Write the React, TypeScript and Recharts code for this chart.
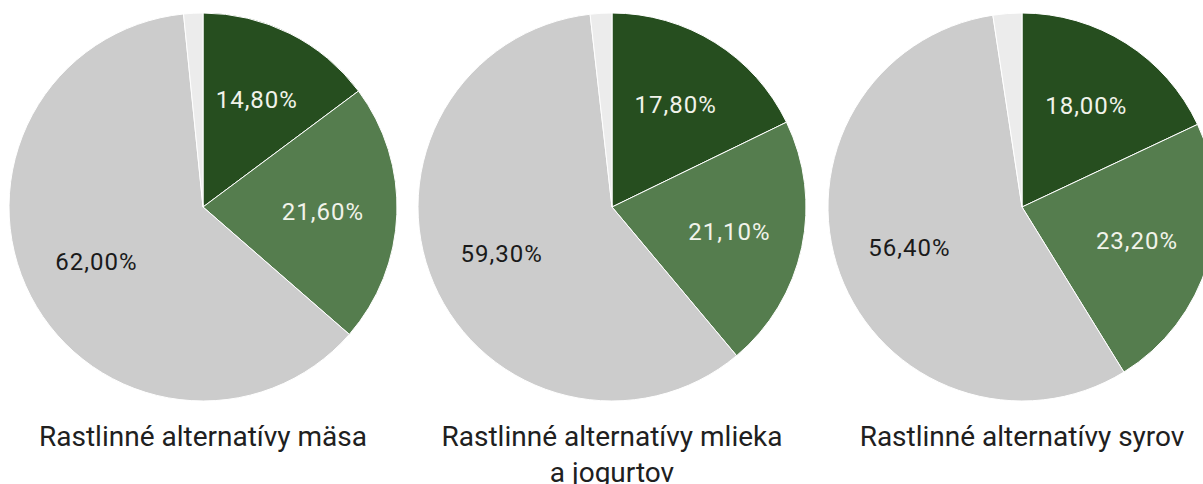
import React from "react";
import { PieChart, Pie, Cell } from "recharts";

const categories = ["Skupina 1", "Skupina 2", "Skupina 3", "Bez odpovede"];
const titles = [
  ["Rastlinné alternatívy mäsa"],
  ["Rastlinné alternatívy mlieka", "a jogurtov"],
  ["Rastlinné alternatívy syrov"],
];
const masaValues = [14.8, 21.6, 62.0, 1.6];
const mliekaValues = [17.8, 21.1, 59.3, 1.8];
const syrovValues = [18.0, 23.2, 56.4, 2.4];

const colors = ["#264e1f", "#557d4e", "#cccccc", "#ececec"];
const labelColors = ["#f1f3ea", "#f1f3ea", "#1a1a1a", "#1a1a1a"];

const W = 1203;
const H = 484;
const centersX = [203, 612, 1022];
const centerY = 207;
const RADIUS = 194;
const RAD = Math.PI / 180;

const toRows = (values: number[]) =>
  categories.map((name, i) => ({ name, value: values[i] }));

const series = [masaValues, mliekaValues, syrovValues].map(toRows);

const renderLabel = (props: any) => {
  const { cx, cy, midAngle, index, value } = props;
  if (index === 3) return null;
  const r = 120;
  const x = cx + r * Math.cos(-midAngle * RAD);
  const y = cy + r * Math.sin(-midAngle * RAD);
  return (
    <text
      x={x}
      y={y}
      fill={labelColors[index]}
      textAnchor="middle"
      dominantBaseline="central"
      fontFamily="Roboto, sans-serif"
      fontSize={24}
      letterSpacing={1}
    >
      {value.toFixed(2).replace(".", ",") + "%"}
    </text>
  );
};

export default function App() {
  return (
    <div
      style={{
        position: "absolute",
        left: 0,
        top: 0,
        width: W,
        height: H,
        overflow: "hidden",
        background: "#ffffff",
      }}
    >
      <PieChart width={W} height={H} margin={{ top: 0, right: 0, bottom: 0, left: 0 }}>
        {series.map((rows, s) => (
          <Pie
            key={s}
            data={rows}
            dataKey="value"
            nameKey="name"
            cx={centersX[s]}
            cy={centerY}
            outerRadius={RADIUS}
            startAngle={90}
            endAngle={-270}
            stroke="#ffffff"
            strokeWidth={1}
            label={renderLabel}
            labelLine={false}
            isAnimationActive={false}
          >
            {rows.map((_, i) => (
              <Cell key={`cell-${s}-${i}`} fill={colors[i]} />
            ))}
          </Pie>
        ))}
      </PieChart>
      {titles.map((lines, s) => (
        <div
          key={s}
          style={{
            position: "absolute",
            left: centersX[s] - 200,
            width: 400,
            top: 419,
            textAlign: "center",
            fontFamily: "Roboto, sans-serif",
            fontSize: 28,
            lineHeight: "36px",
            color: "#202020",
            whiteSpace: "nowrap",
          }}
        >
          {lines.map((line, i) => (
            <div key={i}>{line}</div>
          ))}
        </div>
      ))}
    </div>
  );
}
